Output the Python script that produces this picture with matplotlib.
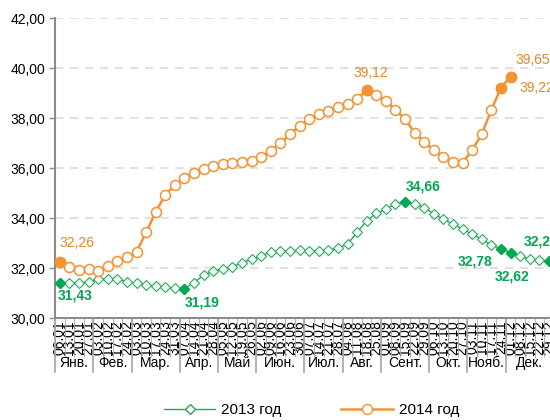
import matplotlib
matplotlib.use("Agg")
import matplotlib.pyplot as plt
from matplotlib.lines import Line2D
import numpy as np

plt.rcParams['font.family'] = ['Liberation Sans', 'DejaVu Sans']
plt.rcParams['lines.scale_dashes'] = False

# ---- data ----
week_labels = ["06.01", "13.01", "20.01", "27.01", "03.02", "10.02", "17.02", "24.02",
               "03.03", "10.03", "17.03", "24.03", "31.03", "07.04", "14.04", "21.04",
               "28.04", "05.05", "12.05", "19.05", "26.05", "02.06", "09.06", "16.06",
               "23.06", "30.06", "07.07", "14.07", "21.07", "28.07", "04.08", "11.08",
               "18.08", "25.08", "01.09", "08.09", "15.09", "22.09", "29.09", "06.10",
               "13.10", "20.10", "27.10", "03.11", "10.11", "17.11", "24.11", "01.12",
               "08.12", "15.12", "22.12", "29.12"]
months = ["Янв.", "Фев.", "Мар.", "Апр.", "Май", "Июн.", "Июл.", "Авг.",
          "Сент.", "Окт.", "Нояб.", "Дек."]
weeks_per_month = [4, 4, 5, 4, 4, 5, 4, 4, 5, 4, 4, 5]

y2013 = [31.43, 31.40, 31.43, 31.45, 31.56, 31.58, 31.56, 31.46, 31.40, 31.33,
         31.28, 31.24, 31.20, 31.19, 31.43, 31.72, 31.89, 31.98, 32.06, 32.22,
         32.36, 32.49, 32.66, 32.70, 32.70, 32.71, 32.70, 32.70, 32.73, 32.80,
         32.97, 33.43, 33.90, 34.20, 34.36, 34.58, 34.66, 34.58, 34.42, 34.17,
         33.96, 33.76, 33.56, 33.37, 33.16, 32.93, 32.78, 32.62, 32.47, 32.36,
         32.33, 32.27]
y2014 = [32.26, 32.06, 31.93, 31.96, 31.88, 32.09, 32.29, 32.44, 32.66, 33.44,
         34.24, 34.94, 35.32, 35.62, 35.82, 35.97, 36.10, 36.17, 36.22, 36.25,
         36.30, 36.45, 36.70, 37.00, 37.35, 37.70, 37.95, 38.15, 38.30, 38.45,
         38.55, 38.75, 39.12, 38.93, 38.69, 38.33, 37.96, 37.42, 37.04, 36.73,
         36.46, 36.25, 36.20, 36.73, 37.36, 38.33, 39.22, 39.65]

# highlighted points: (index, offset dx px, offset dy px)
hl2013 = [(0, 15, -13), (13, 18, -14), (36, 18, 15), (46, -26, -13), (47, 1, -24), (51, -8, 20)]
hl2014 = [(0, 17, 19), (32, 4, 17), (46, 36, 0), (47, 22, 17)]

GREEN = '#1fae55'
GREEN_T = '#00a850'
ORANGE = '#f7922e'
ORANGE_T = '#f08422'

fig = plt.figure(figsize=(5.5, 4.2), dpi=100)
ax = fig.add_axes([55/550, (420-318.3)/420, 498.7/550, 300.3/420])

x13 = np.arange(len(y2013))
x14 = np.arange(len(y2014))

ax.plot(x13, y2013, color=GREEN, lw=1.0, marker='D', ms=5.2, mfc='white',
        mec=GREEN, mew=0.8, zorder=3)
ax.plot(x14, y2014, color=ORANGE, lw=1.8, marker='o', ms=7.2, mfc='white',
        mec=ORANGE, mew=1.1, zorder=4)

def fmt(v):
    return f"{v:.2f}".replace('.', ',')

for i, dx, dy in hl2013:
    ax.plot(x13[i], y2013[i], marker='D', ms=5.2, color=GREEN_T, zorder=5)
    ax.annotate(fmt(y2013[i]), xy=(x13[i], y2013[i]), xytext=(dx*0.72, dy*0.72),
                textcoords='offset points', ha='center', va='center',
                color=GREEN_T, fontsize=10, fontweight='bold', annotation_clip=False)
for i, dx, dy in hl2014:
    ax.plot(x14[i], y2014[i], marker='o', ms=7.2, color=ORANGE, zorder=6)
    ax.annotate(fmt(y2014[i]), xy=(x14[i], y2014[i]), xytext=(dx*0.72, dy*0.72),
                textcoords='offset points', ha='center', va='center',
                color=ORANGE_T, fontsize=10, annotation_clip=False)

ax.set_xlim(-0.5, len(week_labels) - 0.5)
ax.set_ylim(30, 42)
ax.set_yticks(np.arange(30, 42.01, 2))
ax.set_yticklabels([fmt(v) for v in np.arange(30, 42.01, 2)], fontsize=10)
for v in np.arange(32, 42.01, 2):
    ax.axhline(v, color='#d9d9d9', lw=1.1, ls=(0, (6, 4.8)), zorder=1)

for s in ['top', 'right']:
    ax.spines[s].set_visible(False)
for s in ['left', 'bottom']:
    ax.spines[s].set_color('#8c8c8c')
    ax.spines[s].set_linewidth(1.5)
ax.tick_params(axis='y', length=4, width=1, color='#8c8c8c', pad=3)

ax.set_xticks(np.arange(len(week_labels)))
ax.set_xticklabels(week_labels, rotation=90, fontsize=10, va='top', ha='center')
ax.tick_params(axis='x', which='major', length=0, pad=1.5)
ax.set_xticks(np.arange(-0.5, len(week_labels), 1), minor=True)
ax.tick_params(axis='x', which='minor', length=28, width=0.6, color='#a6a6a6')

# month row
trans = ax.get_xaxis_transform()
edges = np.concatenate([[0], np.cumsum(weeks_per_month)]) - 0.5
for e in edges:
    ax.plot([e, e], [0, -0.179], transform=trans, color='#a6a6a6', lw=1.2, clip_on=False)
for m, a, b in zip(months, edges[:-1], edges[1:]):
    ax.text((a + b) / 2, -0.149, m, transform=trans, ha='center', va='center', fontsize=10)

handles = [Line2D([], [], color=GREEN, lw=1.0, marker='D', ms=5.2, mfc='white', mec=GREEN),
           Line2D([], [], color=ORANGE, lw=1.8, marker='o', ms=7.2, mfc='white', mec=ORANGE)]
fig.legend(handles, ["2013 год", "2014 год"], loc='center', bbox_to_anchor=(0.566, 0.024),
           ncol=2, frameon=False, fontsize=11, handlelength=3.4, handletextpad=0.37,
           columnspacing=3.9)

fig.savefig('out.png', dpi=100)
